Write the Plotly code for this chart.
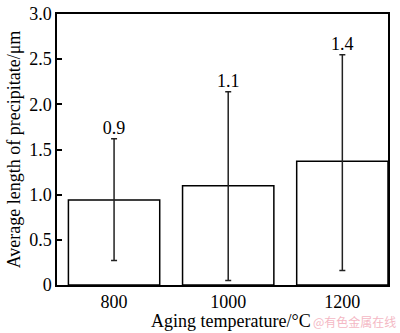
import plotly.graph_objects as go

categories = ["800", "1000", "1200"]
values = [0.94, 1.10, 1.37]
err_plus = [0.68, 1.04, 1.18]
err_minus = [0.67, 1.05, 1.21]
labels = ["0.9", "1.1", "1.4"]
ytick_vals = [0, 0.5, 1.0, 1.5, 2.0, 2.5, 3.0]
ytick_text = ["0", "0.5", "1.0", "1.5", "2.0", "2.5", "3.0"]

xpos = list(range(len(categories)))
font = "Liberation Serif"

fig = go.Figure()
fig.add_trace(go.Bar(
    x=xpos, y=values, width=0.8,
    marker=dict(color="white", line=dict(color="black", width=1.5)),
    error_y=dict(type="data", symmetric=False, array=err_plus, arrayminus=err_minus,
                 color="#222", thickness=1.5, width=3),
    showlegend=False,
))
fig.add_trace(go.Scatter(
    x=xpos, y=[v + e for v, e in zip(values, err_plus)],
    mode="text", text=labels, textposition="top center",
    textfont=dict(family=font, size=18, color="black"),
    showlegend=False, cliponaxis=False,
))
fig.update_layout(
    width=400, height=333,
    margin=dict(l=57, r=12, t=4, b=48),
    paper_bgcolor="white", plot_bgcolor="white",
    font=dict(family=font, size=18, color="black"),
    bargap=0.2,
)
fig.update_xaxes(
    range=[-0.5, 2.4], tickvals=xpos, ticktext=categories,
    showline=True, linecolor="black", linewidth=1.5, mirror=True,
    ticks="", showgrid=False, zeroline=False,
    tickfont=dict(family=font, size=18),
)
fig.update_yaxes(
    range=[0, 3.0], tickvals=ytick_vals, ticktext=ytick_text,
    showline=True, linecolor="black", linewidth=1.5, mirror=True,
    ticks="inside", ticklen=5, tickwidth=1.5, tickcolor="black",
    showgrid=False, zeroline=False, ticklabeloverflow="allow",
    title=dict(text="Average length of precipitate/μm", font=dict(family=font, size=18), standoff=4),
    tickfont=dict(family=font, size=18),
)
fig.add_annotation(
    x=0.5, y=0, xref="paper", yref="paper", xanchor="center", yanchor="top",
    xshift=8, yshift=-24, showarrow=False,
    text="Aging temperature/°C", font=dict(family=font, size=18, color="black"),
)
fig.add_annotation(
    x=1, y=0, xref="paper", yref="paper", xanchor="right", yanchor="bottom",
    xshift=10, yshift=-47, showarrow=False,
    text="@有色金属在线", font=dict(family="Noto Sans CJK SC", size=12, color="#f4b8c4"),
)
fig.write_html("out.html")
